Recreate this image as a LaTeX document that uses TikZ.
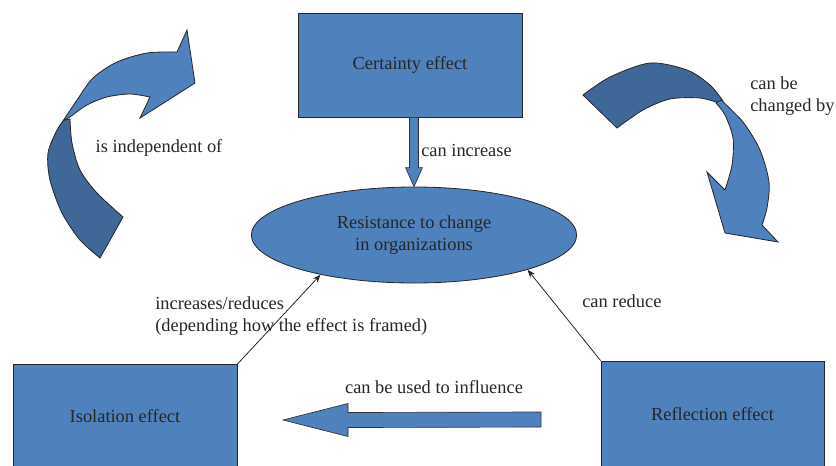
\documentclass[tikz,border=0pt]{standalone}
\usepackage{fontspec}
\setmainfont{Liberation Serif}
\usetikzlibrary{calc,positioning,shapes.geometric,arrows.meta}
\definecolor{boxblue}{HTML}{4F81BD}
\definecolor{shadeblue}{HTML}{3F6797}
\tikzstyle{effect}=[rectangle,draw=black!85,fill=boxblue,line width=0.6pt,minimum width=168pt,minimum height=78pt,inner sep=0pt,text=black!85]
\tikzstyle{resistance}=[ellipse,draw=black!85,fill=boxblue,line width=0.6pt,minimum width=244pt,minimum height=72pt,inner sep=0pt,align=center,text=black!85]
\tikzstyle{block arrow}=[draw=black!80,fill=boxblue,line width=0.5pt,line join=miter]
\tikzstyle{curve light}=[draw=black!85,fill=boxblue,line width=0.6pt]
\tikzstyle{curve dark}=[draw=black!85,fill=shadeblue,line width=0.6pt]
\tikzstyle{relation}=[inner sep=0pt,text=black!85,align=left]
\tikzstyle{thin link}=[-{Stealth[length=6pt,width=4.5pt]},line width=0.6pt,draw=black!85]

\begin{document}
\begin{tikzpicture}[x=0.75pt,y=-0.75pt,font=\fontsize{13.8}{17}\selectfont]
  \path[use as bounding box,clip] (0,0) rectangle (836,465);

  \node[effect] (cert) at (410,65) {Certainty effect};
  \node[resistance] (resist) at (414,235) {Resistance to change\\in organizations};
  \node[effect, minimum height=77.25pt] (iso) at (125,416) {Isolation effect};
  \node[effect, minimum width=167.25pt, minimum height=79.5pt] (refl) at (712.5,414) {Reflection effect};

  % certainty -> resistance
  \draw[block arrow] ($(resist.north |- cert.south)+(-4.5,0)$) -- ($(resist.north)+(-4.5,-19)$)
    -- ($(resist.north)+(-8.5,-19)$) -- (resist.north) -- ($(resist.north)+(8.5,-19)$)
    -- ($(resist.north)+(4.5,-19)$) -- ($(resist.north |- cert.south)+(4.5,0)$) -- cycle;
  \node[relation, anchor=west] (incr) at (421,150) {can increase};

  % isolation and reflection -> resistance
  \draw[thin link] (iso.north east) -- (resist.203);
  \draw[thin link] (refl.north west) -- (resist.-17);
  \node[relation, anchor=west] (framed) at (155,316) {increases/reduces\\(depending how the effect is framed)};
  \node[relation, anchor=west] (reduce) at (582,301) {can reduce};

  % reflection used on isolation
  \coordinate (useTail) at (541,419.5);
  \coordinate (useTip) at (283,420);
  \draw[block arrow] ($(useTail)+(0,-7.5)$) -- ($(useTip)+(65,-7.5)$) -- ($(useTip)+(65,-16.5)$)
    -- (useTip) -- ($(useTip)+(65,16.5)$) -- ($(useTip)+(65,7.5)$) -- ($(useTail)+(0,7.5)$) -- cycle;
  \node[relation] (influence) at (434,387) {can be used to influence};

  % left curved arrow
  \draw[curve dark] plot[smooth] coordinates {(100,258) (80,240) (62,213) (50,180) (48,153) (57,130) (64,120)}
    -- plot[smooth] coordinates {(70,119) (72,143) (80,170) (97,193) (123,217)} -- cycle;
  \draw[curve light] plot[smooth] coordinates {(63,121) (77,100) (93,78) (117,62) (147,53) (177,52)}
    -- (187,30) -- (195,83) -- (140,118)
    -- plot[smooth] coordinates {(150,97) (130,94) (107,97) (87,105) (70,117)} -- cycle;
  \node[relation] (indep) at (159,148) {is independent of};

  % right curved arrow
  \draw[curve dark] plot[smooth] coordinates {(583,95) (610,77) (650,63) (687,70) (710,85) (723,101)}
    -- plot[smooth] coordinates {(722,104) (700,98) (670,99) (643,110) (617,128)} -- cycle;
  \draw[curve light] plot[smooth] coordinates {(721,100) (743,122) (760,150) (769,182) (767,208) (762,225)}
    -- (778,242) -- (725,233) -- (707,172)
    -- plot[smooth] coordinates {(725,190) (732,165) (733,138) (725,115) (716,103)} -- cycle;
  \node[relation, anchor=west] (changed) at (750,96) {can be\\changed by};
\end{tikzpicture}
\end{document}
